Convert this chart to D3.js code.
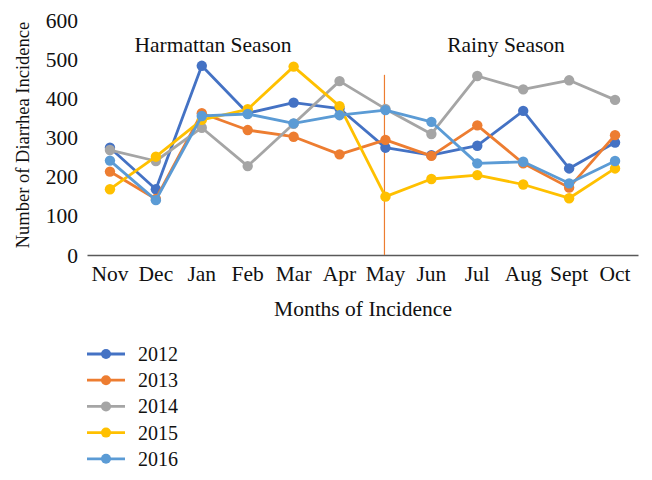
<!DOCTYPE html>
<html><head><meta charset="utf-8">
<script src="https://cdn.jsdelivr.net/npm/d3@7"></script>
<style>body{margin:0;background:#fff}svg{display:block}text{font-family:"Liberation Serif","DejaVu Serif",serif;fill:#111}</style>
</head><body><svg id="c" width="652" height="480"></svg>
<script>
const months = ["Nov","Dec","Jan","Feb","Mar","Apr","May","Jun","Jul","Aug","Sept","Oct"];
const years = ["2012","2013","2014","2015","2016"];
const colors = ["#4472C4","#ED7D31","#A5A5A5","#FFC000","#5B9BD5"];
const s2012 = [274,168,483,362,389,374,274,255,279,368,221,287];
const s2013 = [213,143,362,319,302,257,294,253,331,234,172,306];
const s2014 = [268,240,325,227,335,444,373,309,457,423,446,396];
const s2015 = [168,251,345,372,481,380,149,194,204,180,145,221];
const s2016 = [241,140,355,360,336,357,370,340,234,238,183,240];
const yTicks = [0,100,200,300,400,500,600];
const seriesValues = [s2012,s2013,s2014,s2015,s2016];

const svg = d3.select("#c");
const x = d3.scaleBand().domain(months).range([87,638]);
const y = d3.scaleLinear().domain([0,600]).range([255,20]);

// y tick labels
svg.append("g").attr("transform","translate(78,0)")
  .call(d3.axisLeft(y).tickValues(yTicks).tickSize(0).tickPadding(0))
  .call(g=>g.select(".domain").remove())
  .call(g=>g.selectAll("text").style("font-size","21.5px").attr("dy","0.33em").attr("font-family",null));

// x axis
svg.append("g").attr("transform","translate(0,255)")
  .call(d3.axisBottom(x).tickSize(0).tickPadding(11))
  .call(g=>g.select(".domain").attr("stroke","#595959").attr("stroke-width",1.5))
  .call(g=>g.selectAll("text").style("font-size","21.5px").attr("font-family",null));

// May divider line
svg.append("line").attr("x1",x("May")+x.bandwidth()/2-1).attr("x2",x("May")+x.bandwidth()/2-1)
  .attr("y1",y(460)).attr("y2",y(0)).attr("stroke","#ED7D31").attr("stroke-width",1.2);

const line = d3.line().x((d,i)=>x(months[i])+x.bandwidth()/2).y(d=>y(d));
seriesValues.forEach((vals,k)=>{
  const g = svg.append("g");
  g.append("path").datum(vals).attr("d",line).attr("fill","none")
    .attr("stroke",colors[k]).attr("stroke-width",2.8).attr("stroke-linejoin","round");
  g.selectAll("circle").data(vals).join("circle")
    .attr("cx",(d,i)=>x(months[i])+x.bandwidth()/2).attr("cy",d=>y(d)).attr("r",5.2).attr("fill",colors[k]);
});

// season labels
svg.append("text").attr("x",213).attr("y",52).attr("text-anchor","middle").style("font-size","21.5px").text("Harmattan Season");
svg.append("text").attr("x",506).attr("y",52).attr("text-anchor","middle").style("font-size","21.5px").text("Rainy Season");

// axis titles
svg.append("text").attr("x",363).attr("y",316).attr("text-anchor","middle").style("font-size","21.5px").text("Months of Incidence");
svg.append("text").attr("transform","translate(29,135) rotate(-90)").attr("text-anchor","middle").style("font-size","18.5px").text("Number of Diarrhea Incidence");

// legend
const leg = svg.append("g");
years.forEach((yr,k)=>{
  const cy = 354 + k*26.2;
  leg.append("line").attr("x1",87).attr("x2",125).attr("y1",cy).attr("y2",cy).attr("stroke",colors[k]).attr("stroke-width",2.8);
  leg.append("circle").attr("cx",106).attr("cy",cy).attr("r",5).attr("fill",colors[k]);
  leg.append("text").attr("x",138).attr("y",cy).attr("dy","0.35em").style("font-size","20px").text(yr);
});
</script></body></html>
